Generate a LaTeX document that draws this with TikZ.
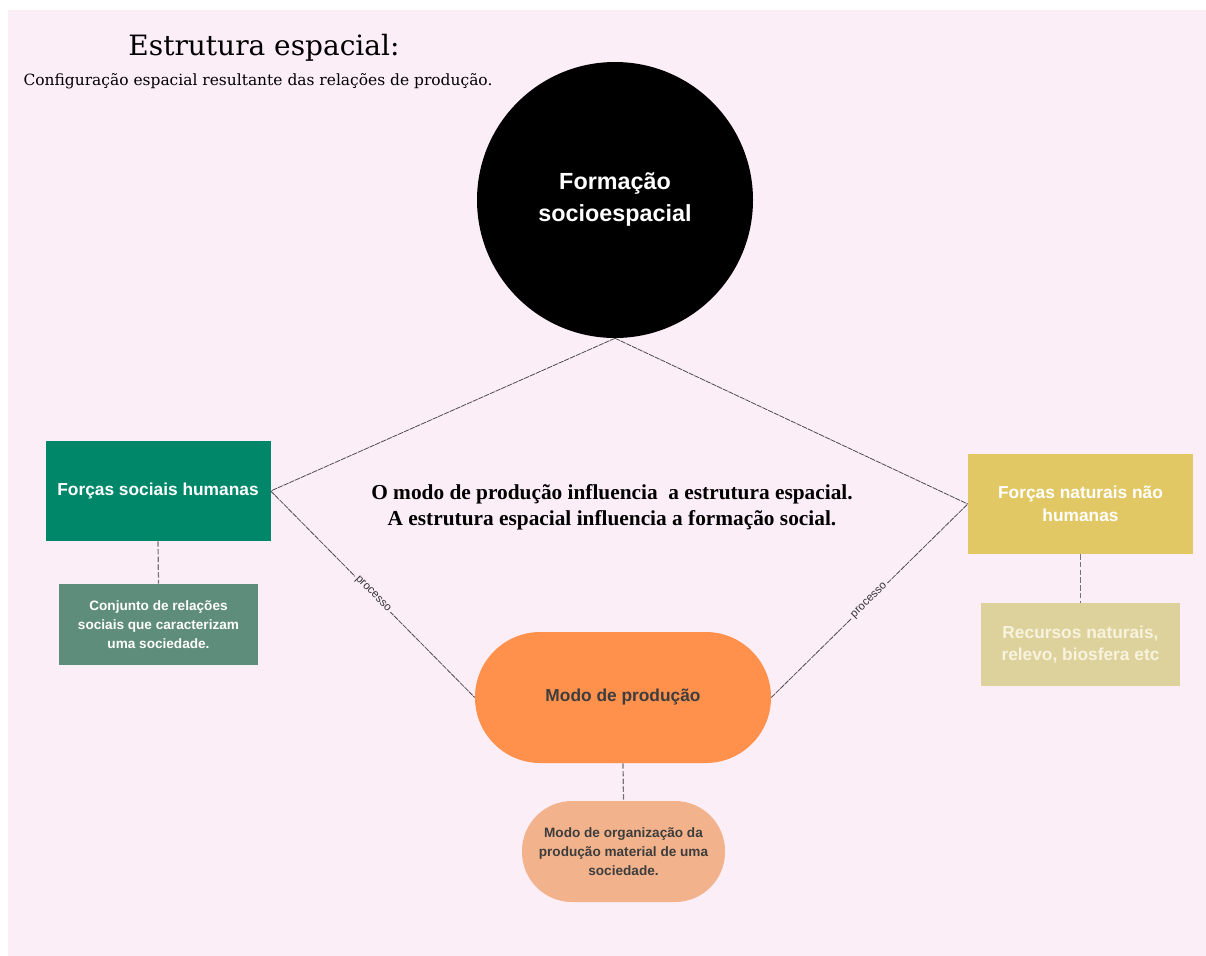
\documentclass[tikz,border=0pt]{standalone}
\usepackage{fontspec}
\newfontfamily\sansf{Liberation Sans}
\newfontfamily\heavyf{Liberation Serif}
\newfontfamily\titlef{DejaVu Serif}
\definecolor{pinkbg}{HTML}{FCEEF7}
\definecolor{greenA}{HTML}{00876A}
\definecolor{greenB}{HTML}{5F8D7B}
\definecolor{yellowA}{HTML}{E2C865}
\definecolor{khaki}{HTML}{DDD29B}
\definecolor{orangeA}{HTML}{FF914D}
\definecolor{peach}{HTML}{F2B38C}
\definecolor{darktxt}{HTML}{3D3D3D}
\definecolor{creamtxt}{HTML}{F8F3DF}
\tikzset{
  boxnode/.style={rectangle, inner sep=0pt, align=center, font=\sansf\bfseries\fontsize{13pt}{17pt}\selectfont, text=white},
  smallbox/.style={boxnode, font=\sansf\bfseries\fontsize{10.2pt}{14.3pt}\selectfont},
  linkline/.style={draw=black!70, line width=0.6pt, dash pattern=on 4pt off 0.7pt},
  vdash/.style={draw=black!55, line width=0.9pt, dash pattern=on 4pt off 1.8pt},
  proclabel/.style={font=\sansf\fontsize{8.5pt}{10pt}\selectfont, text=black!80, fill=pinkbg, inner sep=1.5pt, sloped, pos=0.5}
}
\begin{document}
\begin{tikzpicture}[x=0.75pt, y=-0.75pt]
\useasboundingbox (0,0) rectangle (1206,956);
\fill[white] (0,0) rectangle (1206,956);
\fill[pinkbg] (8,10) rectangle (1206,956);

% title
\node[font=\titlef\fontsize{21pt}{25pt}\selectfont, inner sep=0pt] (title) at (264,48) {Estrutura espacial:};
\node[font=\titlef\fontsize{11.6pt}{14pt}\selectfont, inner sep=0pt] (subtitle) at (258,81) {Configuração espacial resultante das relações de produção.};

% main nodes
\node[circle, fill=black, minimum size=207pt, inner sep=0pt, align=center, text=white,
      font=\sansf\bfseries\fontsize{17.5pt}{24pt}\selectfont] (circ) at (615,200) {Formação\\socioespacial};

\node[boxnode, fill=greenA, minimum width=168.75pt, minimum height=75pt] (humanas) at (158,491) {Forças sociais humanas};
\node[smallbox, fill=greenB, minimum width=149.25pt, minimum height=60.75pt] (conjunto) at (158.5,624.5) {Conjunto de relações\\sociais que caracterizam\\uma sociedade.};

\node[boxnode, fill=yellowA, minimum width=168.75pt, minimum height=75pt] (naturais) at (1080.5,504) {Forças naturais não\\humanas};
\node[boxnode, fill=khaki, text=creamtxt, minimum width=149.25pt, minimum height=62.25pt] (recursos) at (1080.5,644.5) {Recursos naturais,\\relevo, biosfera etc};

\node[boxnode, fill=orangeA, text=darktxt, minimum width=222pt, minimum height=98.25pt, rounded corners=49pt] (modo) at (623,697.5) {Modo de produção};
\node[smallbox, fill=peach, text=darktxt, minimum width=152.25pt, minimum height=75.75pt, rounded corners=37.5pt] (org) at (623.5,851.5) {Modo de organização da\\produção material de uma\\sociedade.};

% center text
\node[font=\heavyf\bfseries\fontsize{16pt}{19.5pt}\selectfont, align=center, inner sep=0pt] (centertext) at (612,507) {O modo de produção influencia\ \ a estrutura espacial.\\A estrutura espacial influencia a formação social.};

% connectors
\draw[linkline] (circ.south) -- (humanas.east);
\draw[linkline] (circ.south) -- (naturais.west);
\draw[linkline] (humanas.east) -- node[proclabel] {processo} (modo.west);
\draw[linkline] (modo.east) -- node[proclabel] {processo} (naturais.west);

\draw[vdash] (humanas.south) -- (conjunto.north);
\draw[vdash] (naturais.south) -- (recursos.north);
\draw[vdash] (modo.south) -- (org.north);
\end{tikzpicture}
\end{document}
